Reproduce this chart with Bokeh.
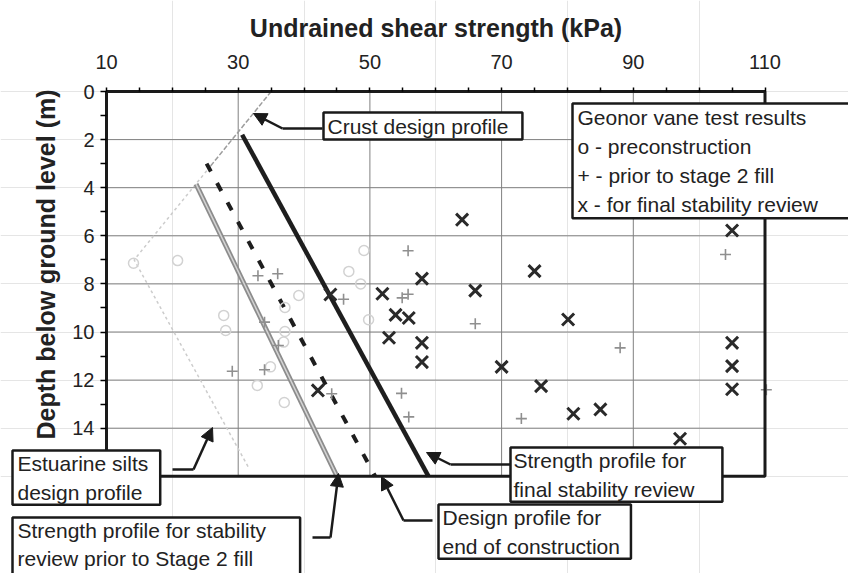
import math
from bokeh.plotting import figure
from bokeh.models import Range1d, FixedTicker, Label, Arrow, NormalHead, LinearAxis
from bokeh.embed import file_html
from bokeh.resources import INLINE

# ---------------- data ----------------
x_ticks = [10, 30, 50, 70, 90, 110]
x_minor = [15, 20, 25, 35, 40, 45, 55, 60, 65, 75, 80, 85, 95, 100, 105]
y_ticks = [0, 2, 4, 6, 8, 10, 12, 14]
y_minor = [1, 3, 5, 7, 9, 11, 13, 15]
x_grid = [30, 50, 70, 90]
y_grid = [2, 4, 6, 8, 10, 12, 14]
su_lim = [10, 110]
depth_lim = [0, 16]

# design / strength profiles (depth m, su kPa)
final_depth = [1.8, 16.0]
final_su = [30.6, 58.9]
eoc_depth = [3.0, 16.0]
eoc_su = [25.2, 50.8]
stage2_depth = [3.85, 16.0]
stage2_su = [23.6, 45.0]
crust_depth = [0.0, 3.1]
crust_su = [35.0, 25.8]
silts_depth = [3.1, 7.0, 15.6]
silts_su = [25.8, 14.2, 31.5]

# Geonor vane test results
pre_su = [14.1, 20.8, 27.8, 28.1, 39.2, 37.1, 37.1, 36.9, 34.9, 32.9, 37.0, 46.8, 48.6, 49.8, 49.1]
pre_depth = [7.14, 7.03, 9.31, 9.94, 8.48, 8.98, 9.98, 10.42, 11.45, 12.22, 12.93, 7.48, 8.0, 9.49, 6.61]

s2_su = [33.0, 36.0, 34.0, 36.1, 29.1, 34.0, 44.2, 46.0, 55.8, 55.8, 54.9, 66.0, 54.8, 55.9, 73.0, 88.0, 104.0, 110.2]
s2_depth = [7.66, 7.58, 9.59, 10.56, 11.63, 11.57, 12.57, 8.64, 6.62, 8.43, 8.58, 9.66, 12.55, 13.53, 13.6, 10.66, 6.78, 12.4]

fin_su = [44.0, 51.9, 53.9, 55.9, 52.9, 57.9, 57.9, 57.9, 64.0, 66.0, 75.0, 80.1, 70.0, 76.0, 80.9, 85.0, 97.1,
          105.0, 105.0, 105.0, 105.0, 42.1]
fin_depth = [8.44, 8.41, 9.29, 9.42, 10.24, 7.78, 10.45, 11.25, 5.33, 8.28, 7.47, 9.48, 11.45, 12.25, 13.40, 13.22, 14.44,
             5.78, 10.45, 11.42, 12.38, 12.43]

FONT = "Liberation Sans"
INK = "#222222"
W, H = 848, 573
# plot box placement on the canvas (pixels)
PX0, KX = 106.0, 6.585   # x=10 kPa at 106 px, 6.585 px per kPa
PY0, KY = 91.0, 24.05    # depth 0 at 91 px, 24.05 px per m


def X(px):
    return 10 + (px - PX0) / KX


def Y(py):
    return (py - PY0) / KY


p = figure(width=W, height=H, x_range=Range1d(X(0), X(W)), y_range=Range1d(Y(H), Y(0)),
           x_axis_location=None, y_axis_location=None, output_backend="svg", toolbar_location=None,
           min_border=0)
p.background_fill_color = "white"
p.border_fill_color = "white"
p.outline_line_color = None

xa = LinearAxis(fixed_location=0, bounds=(10, 110))
xa.ticker = FixedTicker(ticks=x_ticks, minor_ticks=x_minor)
xa.axis_label = "Undrained shear strength (kPa)"
xa.axis_label_text_font = FONT
xa.axis_label_text_font_style = "bold"
xa.axis_label_text_font_size = "25px"
xa.axis_label_text_color = INK
xa.axis_label_standoff = 10
xa.major_label_text_font = FONT
xa.major_label_text_font_size = "20px"
xa.major_label_text_color = INK
xa.major_label_standoff = 19
xa.axis_line_width = 3
xa.axis_line_color = "#1a1a1a"
xa.major_tick_in = 0
xa.major_tick_out = 4
xa.minor_tick_in = 0
xa.minor_tick_out = 4
xa.major_tick_line_width = 1.5
xa.minor_tick_line_width = 1.5
p.add_layout(xa, "above")

ya = LinearAxis(fixed_location=10, bounds=(0, 16))
ya.ticker = FixedTicker(ticks=y_ticks, minor_ticks=y_minor)
ya.major_label_text_font = FONT
ya.major_label_text_font_size = "20px"
ya.major_label_text_color = INK
ya.major_label_standoff = 6
ya.axis_line_width = 3
ya.axis_line_color = "#1a1a1a"
ya.major_tick_in = 0
ya.major_tick_out = 6
ya.minor_tick_in = 0
ya.minor_tick_out = 6
ya.major_tick_line_width = 1.5
ya.minor_tick_line_width = 1.5
p.add_layout(ya, "left")

# y axis title
p.add_layout(Label(x=X(45), y=Y(264), x_units="data", y_units="data", text="Depth below ground level (m)",
                   angle=math.pi / 2, text_align="center", text_baseline="middle", text_font=FONT,
                   text_font_style="bold", text_font_size="25px", text_color=INK))

# grid lines inside the plot box
p.segment(x0=x_grid, y0=[depth_lim[0]] * len(x_grid), x1=x_grid, y1=[depth_lim[1]] * len(x_grid),
          line_color="#808080", line_width=1)
p.segment(x0=[su_lim[0]] * len(y_grid), y0=y_grid, x1=[su_lim[1]] * len(y_grid), y1=y_grid,
          line_color="#808080", line_width=1)

# profiles
p.line(silts_su, silts_depth, line_color="#cccccc", line_width=1.5, line_dash="3 3")
p.line(crust_su, crust_depth, line_color="#9c9c9c", line_width=1.5, line_dash="5 2")
p.line(stage2_su, stage2_depth, line_color="#8c8c8c", line_width=5)
p.line(stage2_su, stage2_depth, line_color="#d4d4d4", line_width=1.5)
p.line(eoc_su, eoc_depth, line_color="#1e1e1e", line_width=4, line_dash="9 13")
p.line(final_su, final_depth, line_color="#1e1e1e", line_width=4.5)

# test results
p.scatter(pre_su, pre_depth, marker="circle", size=10, fill_color=None, line_color="#d2d2d2", line_width=1.5)
p.scatter(s2_su, s2_depth, marker="cross", size=11, line_color="#8f8f8f", line_width=1.6)
p.scatter(fin_su, fin_depth, marker="x", size=17, line_color="#2a2a2a", line_width=3)

# plot box (right and bottom borders)
p.quad(left=[su_lim[0]], right=[su_lim[1]], top=[depth_lim[0]], bottom=[depth_lim[1]],
       fill_color=None, line_color="#1a1a1a", line_width=3)


def pad(l, r, t, b):
    return dict(left=l, right=r, top=t, bottom=b)


def box(px, py, text, padding, lh=1.27):
    kw = dict(x=X(px), y=Y(py), x_units="data", y_units="data", anchor="top_left", text=text,
              text_font=FONT, text_font_size="21px", text_color=INK, text_line_height=lh,
              border_line_color="#1a1a1a", border_line_width=2.5, background_fill_color="white")
    try:
        lab = Label(padding=padding, **kw)
    except Exception:
        lab = Label(padding=4, **kw)
    p.add_layout(lab)


def seg(x0, y0, x1, y1, head=False):
    end = NormalHead(size=13, fill_color="#1a1a1a", line_color="#1a1a1a") if head else None
    p.add_layout(Arrow(x_start=X(x0), y_start=Y(y0), x_end=X(x1), y_end=Y(y1), start=None, end=end,
                       line_color="#1a1a1a", line_width=2.5))


# arrows
seg(322, 128, 282, 128)
seg(282, 128, 253, 113, head=True)
seg(510, 464, 450, 464)
seg(450, 464, 426, 452, head=True)
seg(432, 520, 403, 520)
seg(403, 520, 381, 476, head=True)
seg(172, 469, 193, 469)
seg(193, 469, 212, 427, head=True)
seg(312, 537, 330, 537)
seg(330, 537, 338, 473, head=True)

# boxes
box(323, 112, "Crust design profile", pad(4, 14, 2, 2))
box(572, 103, "Geonor vane test results\no - preconstruction\n+ - prior to stage 2 fill\nx - for final stability review",
    pad(5, 40, 2, 2))
box(510, 447, "Strength profile for\nfinal stability review", pad(3, 28, 1, 1))
box(438, 504, "Design profile for\nend of construction", pad(4, 11, 1, 1))
box(12, 450, "Estuarine silts\ndesign profile", pad(5, 12, 1, 1))
box(12, 517, "Strength profile for stability\nreview prior to Stage 2 fill", pad(5, 34, 1, 12), lh=1.22)

open("out.html", "w").write(file_html(p, INLINE))
